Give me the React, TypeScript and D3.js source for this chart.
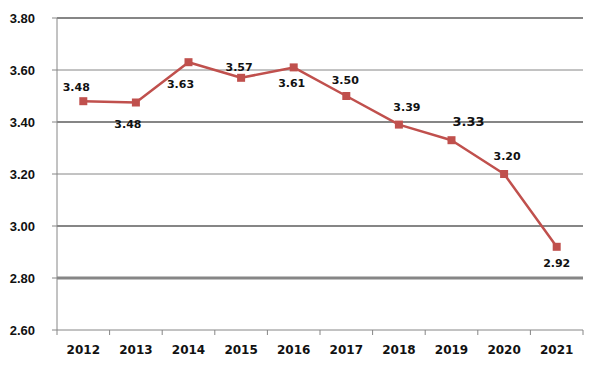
import React from "react";
import * as d3 from "d3";

const years = ["2012", "2013", "2014", "2015", "2016", "2017", "2018", "2019", "2020", "2021"];
const values = [3.48, 3.475, 3.63, 3.57, 3.61, 3.5, 3.39, 3.33, 3.2, 2.92];
const valueLabels = ["3.48", "3.48", "3.63", "3.57", "3.61", "3.50", "3.39", "3.33", "3.20", "2.92"];
const yTicks = [2.6, 2.8, 3.0, 3.2, 3.4, 3.6, 3.8];
const gridWidths: Record<string, number> = { "2.8": 3, "3": 2, "3.2": 1, "3.4": 2, "3.6": 1, "3.8": 2 };
const labelOffsets: [number, number][] = [
  [-7, -10], [-8, 25], [-8, 26], [-2, -7], [-2, 20], [-1, -12], [8, -14], [17, -14], [3, -14], [0, 20],
];

const W = 600, H = 371;
const left = 57, right = 583, top = 18, bottom = 330;
const RED = "#C0504D";
const GRID = "#868686";

export default function App() {
  const x = d3.scaleBand<string>().domain(years).range([left, right]).padding(0);
  const y = d3.scaleLinear().domain([2.6, 3.8]).range([bottom, top]);
  const cx = (yr: string) => (x(yr) as number) + x.bandwidth() / 2;
  const line = d3
    .line<number>()
    .x((_, i) => cx(years[i]))
    .y((v) => y(v));
  const boundaries = d3.range(years.length + 1).map((i) => left + i * x.bandwidth());

  return (
    <svg width={W} height={H} style={{ position: "absolute", left: 0, top: 0, background: "#fff" }}>
      <rect x={0} y={0} width={W} height={H} fill="#fff" />
      {yTicks.map((t) => (
        <g key={t}>
          {t > 2.61 && (
            <line x1={left} x2={right} y1={y(t)} y2={y(t)} stroke={GRID} strokeWidth={gridWidths[String(+t.toFixed(1))] || 1} />
          )}
          <line x1={left - 5} x2={left} y1={y(t)} y2={y(t)} stroke={GRID} strokeWidth={1} />
          <text
            x={35}
            y={y(t)}
            dy="0.35em"
            textAnchor="end"
            fontFamily="Liberation Sans, Arial, sans-serif"
            fontWeight="bold"
            fontSize={13}
            fill="#111"
          >
            {t.toFixed(2)}
          </text>
        </g>
      ))}
      <line x1={left} x2={left} y1={top} y2={bottom} stroke={GRID} strokeWidth={1} />
      <line x1={left} x2={right} y1={bottom} y2={bottom} stroke={GRID} strokeWidth={1} />
      {boundaries.map((b, i) => (
        <line key={i} x1={b} x2={b} y1={bottom} y2={bottom + 5} stroke={GRID} strokeWidth={1} />
      ))}
      {years.map((yr) => (
        <text
          key={yr}
          x={cx(yr)}
          y={354}
          textAnchor="middle"
          fontFamily="DejaVu Sans, Verdana, sans-serif"
          fontWeight="bold"
          fontSize={12}
          fill="#111"
        >
          {yr}
        </text>
      ))}
      <path d={line(values) || ""} fill="none" stroke={RED} strokeWidth={2.5} strokeLinejoin="round" />
      {values.map((v, i) => (
        <rect key={i} x={cx(years[i]) - 4} y={y(v) - 4} width={8} height={8} fill={RED} />
      ))}
      {values.map((v, i) => (
        <text
          key={"l" + i}
          x={cx(years[i]) + labelOffsets[i][0]}
          y={y(v) + labelOffsets[i][1]}
          textAnchor="middle"
          fontFamily="DejaVu Sans, Verdana, sans-serif"
          fontWeight="bold"
          fontSize={i === 7 ? 13 : 11}
          fill="#111"
        >
          {valueLabels[i]}
        </text>
      ))}
    </svg>
  );
}
